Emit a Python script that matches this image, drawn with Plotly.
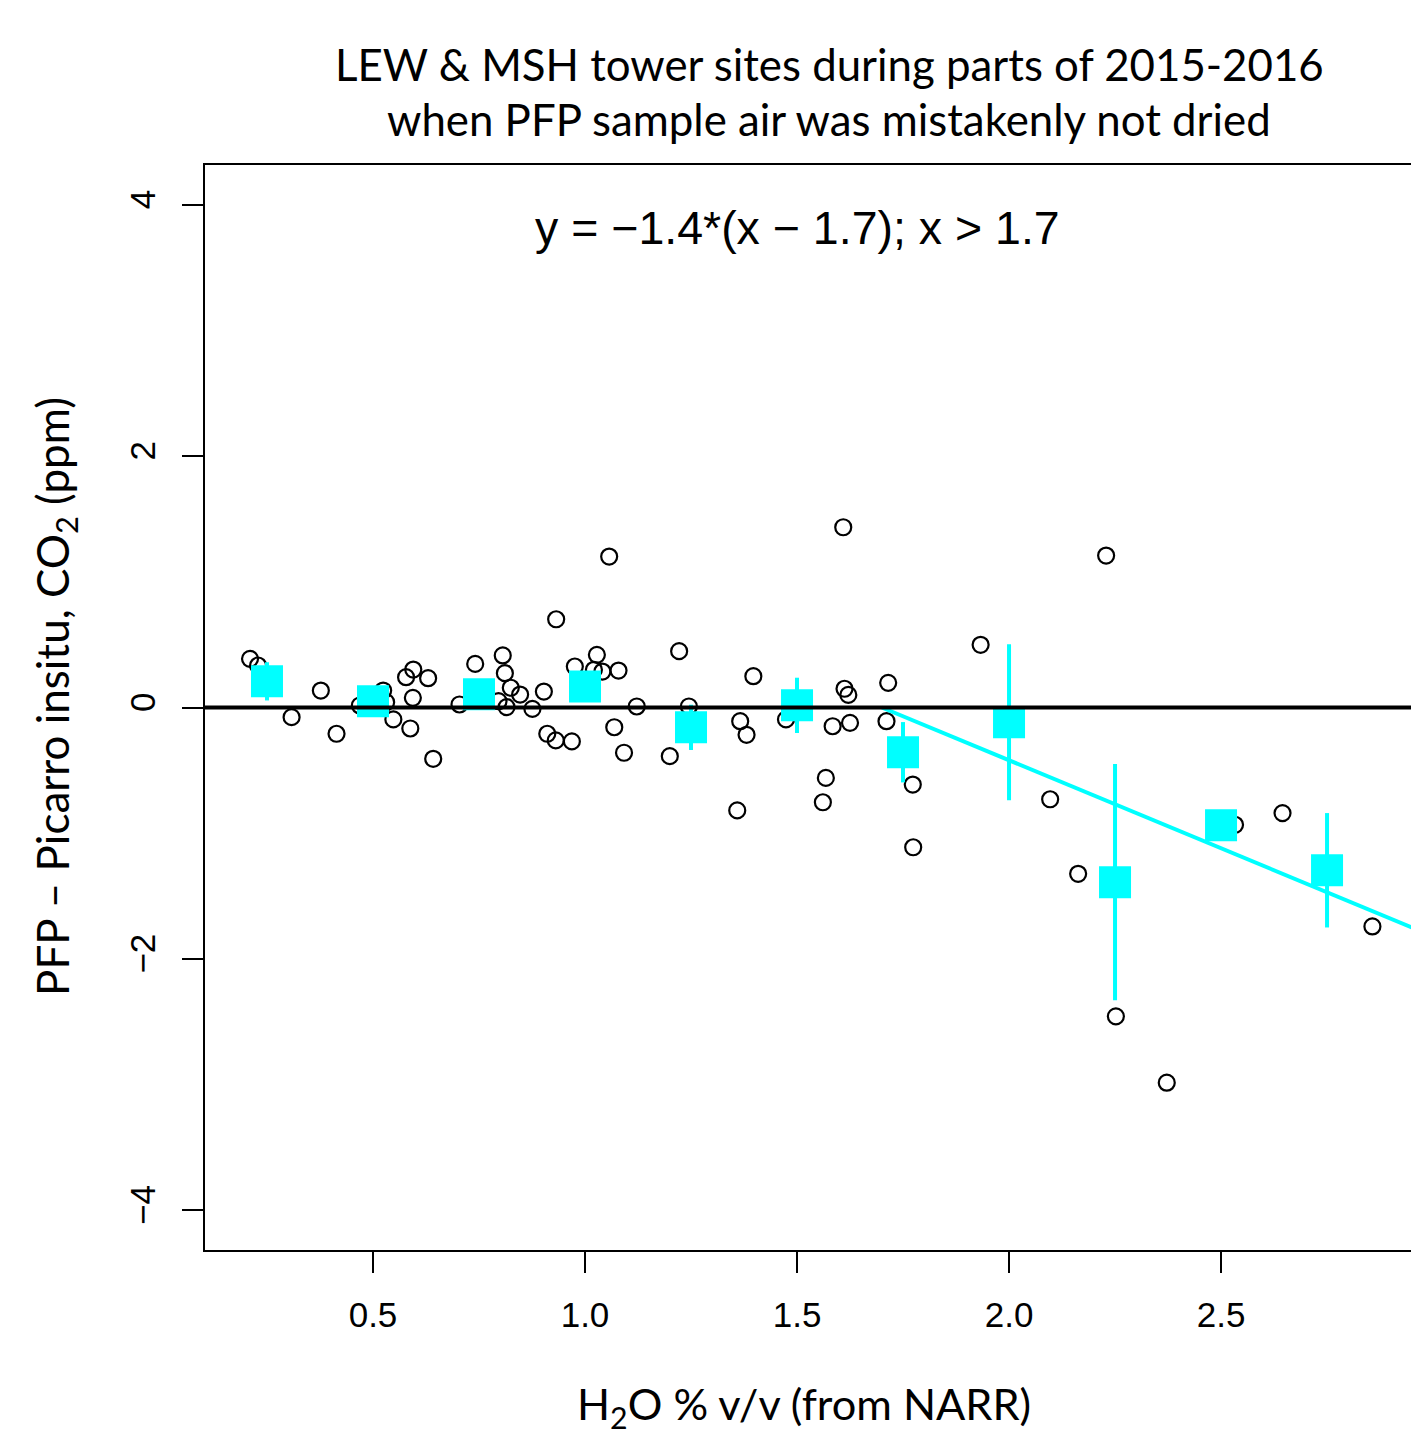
import plotly.graph_objects as go

# ---- data ----
pts_x = [0.210, 0.229, 0.308, 0.377, 0.414, 0.469, 0.524, 0.531, 0.548, 0.578,
         0.595, 0.630, 0.594, 0.588, 0.642, 0.704, 0.741, 0.806, 0.811, 0.825,
         0.847, 0.796, 0.815, 0.876, 0.903, 0.911, 0.931, 0.969, 0.976, 1.028,
         1.021, 1.041, 1.079, 1.122, 1.069, 1.092, 1.057, 1.609, 0.932, 1.222,
         1.245, 1.200, 1.397, 1.366, 1.381, 1.359, 1.474, 1.612, 1.621, 1.584,
         1.625, 1.715, 1.711, 1.568, 1.561, 1.773, 1.774, 2.229, 1.933, 2.097,
         2.163, 2.252, 2.372, 2.533, 2.645, 2.857]
pts_y = [0.387, 0.334, -0.077, 0.135, -0.209, 0.016, 0.135, 0.042, -0.095, 0.241,
         0.302, 0.233, 0.077, -0.167, -0.408, 0.024, 0.347, 0.414, 0.273, 0.157,
         0.103, 0.050, 0.003, -0.011, 0.127, -0.209, -0.262, -0.270, 0.326, 0.419,
         0.300, 0.286, 0.294, 0.008, -0.157, -0.360, 1.201, 1.434, 0.702, 0.448,
         0.008, -0.387, 0.249, -0.109, -0.217, -0.819, -0.095, 0.149, 0.100, -0.149,
         -0.122, 0.196, -0.109, -0.560, -0.754, -0.613, -1.112, 1.209, 0.499, -0.730,
         -1.323, -2.457, -2.985, -0.933, -0.840, -1.742]

bin_x = [0.25, 0.50, 0.75, 1.00, 1.25, 1.50, 1.75, 2.00, 2.25, 2.50, 2.75]
bin_y = [0.208, 0.049, 0.106, 0.168, -0.158, 0.017, -0.356, -0.117, -1.390, -0.937, -1.295]
bin_err = [0.152, 0.08, 0.08, 0.11, 0.18, 0.22, 0.24, 0.62, 0.94, 0.10, 0.455]

fit_slope = -1.4
fit_x0 = 1.7
fit_x = [1.7, 3.2]
fit_y = [fit_slope * (v - fit_x0) for v in fit_x]

x_ticks = [0.5, 1.0, 1.5, 2.0, 2.5]
x_ticktext = ["0.5", "1.0", "1.5", "2.0", "2.5"]
y_ticks = [-4, -2, 0, 2, 4]

title_lines = ["LEW & MSH tower sites during parts of 2015-2016",
               "when PFP sample air was mistakenly not dried"]
eq_text = "y = \u22121.4*(x \u2212 1.7); x > 1.7"
x_label = "H<sub>2</sub>O % v/v (from NARR)"
y_label = "PFP \u2013 Picarro insitu, CO<sub>2</sub> (ppm)"

CYAN = "#00FFFF"
W, H = 1411, 1433
L, T, R = 205, 165, 0
PW, PH = 1206, 1085
B = H - T - PH

def px(xp):  # screen px -> paper x
    return (xp - L) / PW

def py(yp):  # screen px -> paper y
    return (T + PH - yp) / PH

fig = go.Figure()

fig.add_trace(go.Scatter(
    x=pts_x, y=pts_y, mode="markers",
    marker=dict(symbol="circle-open", size=16, color="black", line=dict(width=2.2, color="black")),
    showlegend=False, hoverinfo="skip"))

fig.add_trace(go.Scatter(
    x=fit_x, y=fit_y, mode="lines",
    line=dict(color=CYAN, width=4), showlegend=False, hoverinfo="skip"))

fig.add_trace(go.Scatter(
    x=bin_x, y=bin_y, mode="markers",
    marker=dict(symbol="square", size=32, color=CYAN, line=dict(width=0)),
    error_y=dict(type="data", array=bin_err, visible=True, color=CYAN, thickness=4, width=0),
    showlegend=False, hoverinfo="skip"))

fig.add_shape(type="line", xref="paper", yref="y", x0=0, x1=1, y0=0, y1=0,
              line=dict(color="black", width=3.8), layer="above")

tick_font = dict(family="Liberation Sans, Arial, sans-serif", size=35, color="black")
lab_font_family = "Lato, Calibri, sans-serif"

fig.update_layout(
    width=W, height=H,
    margin=dict(l=L, r=R, t=T, b=B, pad=0),
    paper_bgcolor="white", plot_bgcolor="white",
    xaxis=dict(range=[0.1038, 2.948], tickvals=x_ticks, ticktext=x_ticktext,
               ticks="outside", ticklen=21, tickwidth=2, tickcolor="black",
               showline=True, linewidth=2, linecolor="black", mirror=True,
               showgrid=False, zeroline=False, tickfont=tick_font,
               ticklabelstandoff=12),
    yaxis=dict(range=[-4.316, 4.316], tickvals=y_ticks,
               ticks="outside", ticklen=21, tickwidth=2, tickcolor="black",
               showline=True, linewidth=2, linecolor="black", mirror=False,
               showgrid=False, zeroline=False, tickfont=tick_font, tickangle=-90,
               ticklabelstandoff=13),
)

fig.add_annotation(text=title_lines[0], xref="paper", yref="paper",
                   x=px(829), y=py(64), xanchor="center", yanchor="middle",
                   showarrow=False, font=dict(family=lab_font_family, size=43.8, color="black"))
fig.add_annotation(text=title_lines[1], xref="paper", yref="paper",
                   x=px(829), y=py(119), xanchor="center", yanchor="middle",
                   showarrow=False, font=dict(family=lab_font_family, size=43.8, color="black"))
fig.add_annotation(text=eq_text, xref="paper", yref="paper",
                   x=px(797), y=py(228), xanchor="center", yanchor="middle",
                   showarrow=False, font=dict(family="Liberation Sans, Arial, sans-serif", size=46.5, color="black"))
fig.add_annotation(text=x_label, xref="paper", yref="paper",
                   x=px(804), y=py(1406), xanchor="center", yanchor="middle",
                   showarrow=False, font=dict(family=lab_font_family, size=43.3, color="black"))
fig.add_annotation(text=y_label, xref="paper", yref="paper",
                   x=px(55), y=py(697), xanchor="center", yanchor="middle", textangle=-90,
                   showarrow=False, font=dict(family=lab_font_family, size=44, color="black"))

fig.write_html("out.html",
               config={"displayModeBar": False},
               post_script="document.body.style.margin='0';document.body.style.overflow='hidden';")
